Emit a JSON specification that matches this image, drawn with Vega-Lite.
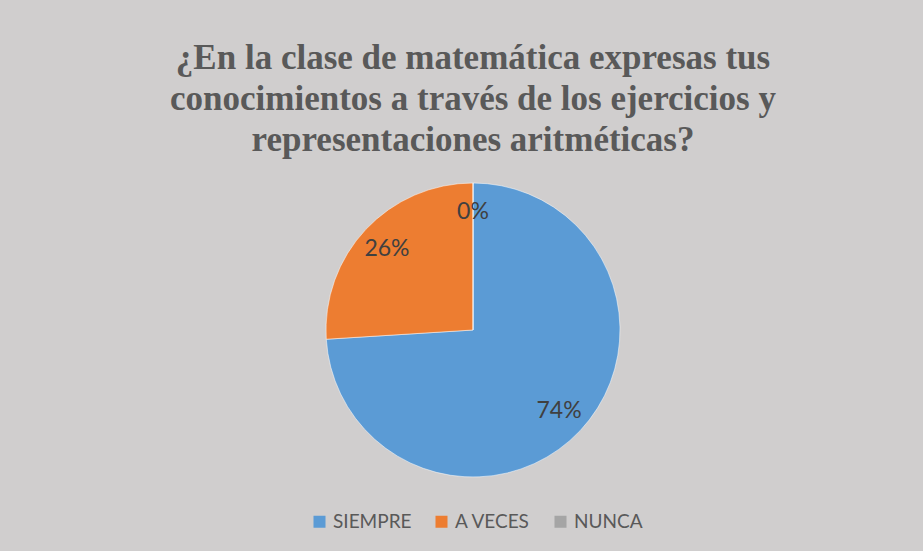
{
  "$schema": "https://vega.github.io/schema/vega-lite/v6.json",
  "autosize": {"type": "none"},
  "width": 294,
  "height": 294,
  "padding": {"left": 326, "top": 183, "right": 303, "bottom": 74},
  "background": "#d0cece",
  "config": {"view": {"stroke": null}},
  "title": {
    "text": ["¿En la clase de matemática expresas tus", "conocimientos a través de los ejercicios y", "representaciones aritméticas?"],
    "font": "Liberation Serif",
    "fontSize": 35,
    "fontWeight": "bold",
    "color": "#595959",
    "lineHeight": 41,
    "anchor": "middle",
    "offset": 24
  },
  "data": {
    "values": [
      {"categoria": "SIEMPRE", "valor": 74, "etiqueta": "74%", "orden": 1},
      {"categoria": "A VECES", "valor": 26, "etiqueta": "26%", "orden": 2},
      {"categoria": "NUNCA", "valor": 0, "etiqueta": "0%", "orden": 3}
    ]
  },
  "encoding": {
    "theta": {"field": "valor", "type": "quantitative", "stack": true},
    "order": {"field": "orden", "type": "quantitative"}
  },
  "layer": [
    {
      "mark": {"type": "arc", "stroke": "#ffffff", "strokeWidth": 0.5},
      "encoding": {
        "color": {
          "field": "categoria",
          "type": "nominal",
          "scale": {"domain": ["SIEMPRE", "A VECES", "NUNCA"], "range": ["#5b9bd5", "#ed7d31", "#a5a5a5"]},
          "legend": {
            "title": null,
            "orient": "none",
            "legendX": -16,
            "legendY": 329,
            "direction": "horizontal",
            "symbolType": "square",
            "symbolSize": 144,
            "symbolStrokeWidth": 0,
            "labelFont": "Lato",
            "labelFontSize": 19,
            "labelColor": "#595959",
            "columnPadding": 20,
            "labelOffset": 4
          }
        }
      }
    },
    {
      "mark": {"type": "text", "radius": 118, "font": "Lato", "fontSize": 23, "color": "#404040"},
      "encoding": {"text": {"field": "etiqueta", "type": "nominal"}}
    }
  ]
}
